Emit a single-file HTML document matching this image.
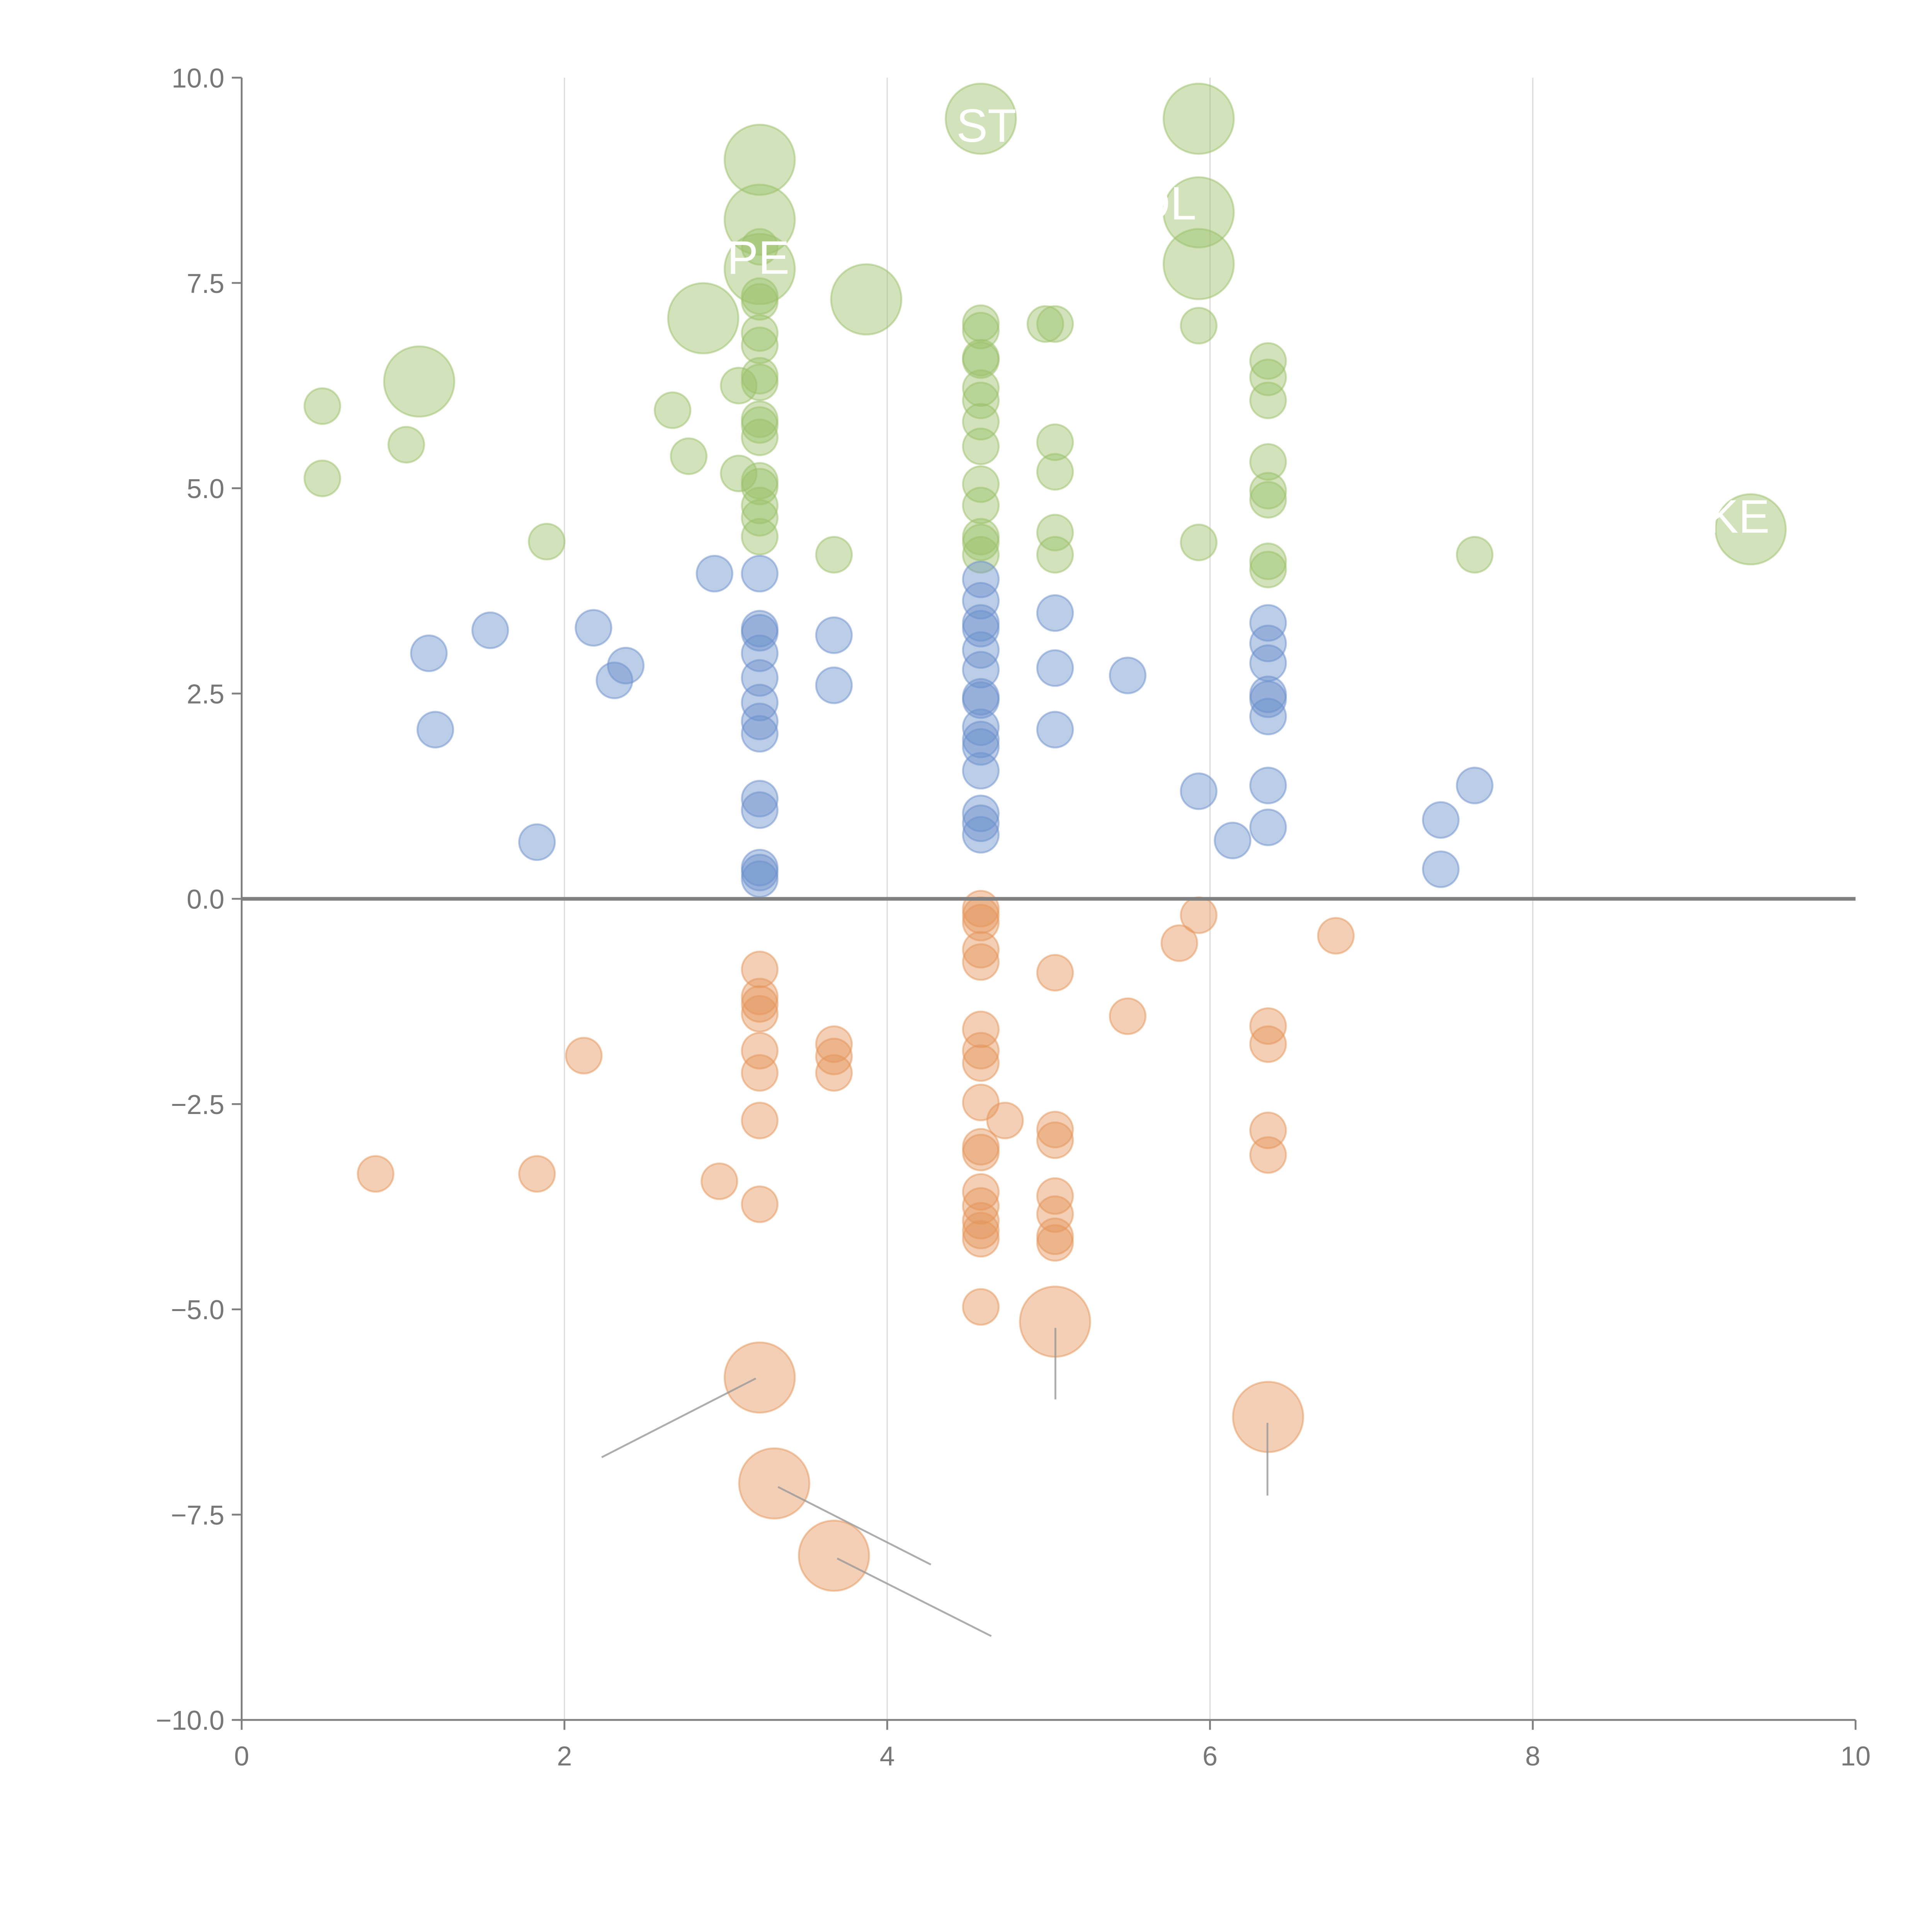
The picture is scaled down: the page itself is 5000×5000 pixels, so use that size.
<!DOCTYPE html>
<html><head><meta charset="utf-8"><style>
html,body{margin:0;padding:0;background:#fff;width:5000px;height:5000px;overflow:hidden}
svg{display:block}
text{font-family:"Liberation Sans",sans-serif}
</style></head><body>
<svg id="chart" width="5000" height="5000" viewBox="0 0 1567 1567" xmlns="http://www.w3.org/2000/svg">
<g id="grid"></g>
<g id="marks"></g>
<g id="axes"></g>
</svg>
<script>
const xTicks=[0,2,4,6,8,10];
const yTicks=[-10,-7.5,-5,-2.5,0,2.5,5,7.5,10];
const yTickLabels=["\u221210.0","\u22127.5","\u22125.0","\u22122.5","0.0","2.5","5.0","7.5","10.0"];
const greenX=[0.5,0.5,1.02,1.89,2.67,2.77,3.08,3.08,
3.21,3.21,3.21,3.21,3.21,3.21,3.21,3.21,3.21,3.21,3.21,3.21,3.21,3.21,3.21,3.67,
4.58,4.58,4.58,4.58,4.58,4.58,4.58,4.58,4.58,4.58,4.58,4.58,4.58,
4.98,5.04,5.04,5.04,5.04,5.04,5.93,5.93,
6.36,6.36,6.36,6.36,6.36,6.36,6.36,6.36,7.64];
const greenY=[6.0,5.12,5.53,4.35,5.95,5.39,6.25,5.18,
7.94,7.34,7.27,6.89,6.74,6.37,6.29,5.84,5.77,5.62,5.09,5.02,4.79,4.64,4.41,4.19,
7.01,6.92,6.59,6.56,6.22,6.07,5.81,5.51,5.05,4.79,4.41,4.34,4.19,
7.0,7.0,5.56,5.2,4.46,4.19,6.98,4.34,
6.55,6.35,6.07,5.32,4.97,4.86,4.11,4.01,4.19];
const greenBigX=[1.1,2.86,3.21,3.21,3.21,3.87,4.58,5.93,5.93,5.93,9.35];
const greenBigY=[6.3,7.07,9.0,8.27,7.67,7.3,9.5,9.5,8.36,7.73,4.5];
const blueX=[1.16,1.2,1.54,1.83,2.18,2.31,2.38,2.93,
3.21,3.21,3.21,3.21,3.21,3.21,3.21,3.21,3.21,3.21,3.21,3.21,3.21,3.67,3.67,
4.58,4.58,4.58,4.58,4.58,4.58,4.58,4.58,4.58,4.58,4.58,4.58,4.58,4.58,4.58,
5.04,5.04,5.04,5.49,5.93,6.14,
6.36,6.36,6.36,6.36,6.36,6.36,6.36,6.36,7.43,7.43,7.64];
const blueY=[2.99,2.06,3.27,0.69,3.3,2.66,2.84,3.96,
3.96,3.29,3.24,2.99,2.69,2.39,2.16,2.01,1.22,1.08,0.38,0.32,0.24,3.21,2.6,
3.89,3.63,3.36,3.29,3.03,2.79,2.46,2.42,2.09,1.94,1.85,1.56,1.04,0.92,0.78,
3.48,2.81,2.06,2.72,1.31,0.71,
3.36,3.11,2.87,2.49,2.43,2.22,1.38,0.87,0.96,0.36,1.38];
const orangeX=[0.83,1.83,2.12,2.96,
3.21,3.21,3.21,3.21,3.21,3.21,3.21,3.21,3.67,3.67,3.67,
4.58,4.58,4.58,4.58,4.58,4.58,4.58,4.58,4.58,4.58,4.58,4.58,4.58,4.58,4.58,4.58,4.58,4.73,
5.04,5.04,5.04,5.04,5.04,5.04,5.04,5.49,5.81,5.93,
6.36,6.36,6.36,6.36,6.78];
const orangeY=[-3.35,-3.35,-1.91,-3.44,
-0.86,-1.19,-1.28,-1.4,-1.85,-2.12,-2.7,-3.72,-1.77,-1.92,-2.12,
-0.12,-0.2,-0.29,-0.62,-0.77,-1.59,-1.85,-2.0,-2.48,-3.02,-3.09,-3.57,-3.74,-3.92,-4.04,-4.14,-4.97,-2.7,
-0.9,-2.81,-2.94,-3.62,-3.84,-4.11,-4.19,-1.43,-0.54,-0.2,
-1.55,-1.77,-2.82,-3.12,-0.45];
const orangeBigX=[5.04,3.21,3.3,3.67,6.36];
const orangeBigY=[-5.15,-5.83,-7.12,-8.0,-6.31];
const X0=196,X1=1505,Y0=1395,Y1=63;
function sx(v){return X0+(v-0)/(10-0)*(X1-X0);}
function sy(v){return Y0-(v+10)/20*(Y0-Y1);}
const NS="http://www.w3.org/2000/svg";
function mk(tag,attrs,parent){const e=document.createElementNS(NS,tag);for(const k in attrs)e.setAttribute(k,attrs[k]);parent.appendChild(e);return e;}
const grid=document.getElementById('grid'),marks=document.getElementById('marks'),axes=document.getElementById('axes');
[2,4,6,8].forEach(v=>{const l=mk('line',{x1:sx(v),x2:sx(v),y1:Y1,y2:Y0,stroke:'#dcdcdc','stroke-width':1},grid);

});
function draw(xs,ys,r,fill,name){xs.forEach((x,i)=>{const c=mk('circle',{cx:sx(x),cy:sy(ys[i]),r:r,fill:fill,'fill-opacity':0.45,stroke:fill,'stroke-opacity':0.5,'stroke-width':1.5},marks);

});}
draw(greenX,greenY,14.5,'#9cc06a','green-bubble');
draw(greenBigX,greenBigY,28.5,'#9cc06a','green-big-bubble');
draw(blueX,blueY,14.5,'#6b90cc','blue-bubble');
draw(orangeX,orangeY,14.5,'#e5955a','orange-bubble');
draw(orangeBigX,orangeBigY,28.5,'#e5955a','orange-big-bubble');
[[856,1077,856,1135],[613,1118,488,1182],[631,1206,755,1269],[679,1264,804,1327],[1028,1154,1028,1213]].forEach(p=>{const l=mk('line',{x1:p[0],y1:p[1],x2:p[2],y2:p[3],stroke:'#999','stroke-width':1.5,'stroke-opacity':0.8},marks);

});
[[800,115,'ST'],[615,222,'PE'],[945,178,'OL'],[1410,432,'KE']].forEach(p=>{const t=mk('text',{x:p[0],y:p[1],fill:'#fff','font-size':38,'text-anchor':'middle'},marks);t.textContent=p[2];

});
const za=mk('line',{x1:X0,x2:X1,y1:sy(0),y2:sy(0),stroke:'#808080','stroke-width':3},axes);


const ya=mk('line',{x1:X0,x2:X0,y1:Y1,y2:Y0,stroke:'#808080','stroke-width':1.5},axes);


const xa=mk('line',{x1:X0,x2:X1,y1:Y0,y2:Y0,stroke:'#808080','stroke-width':1.5},axes);


xTicks.forEach(v=>{const t=mk('line',{x1:sx(v),x2:sx(v),y1:Y0,y2:Y0+8,stroke:'#808080','stroke-width':1.5},axes);


const l=mk('text',{x:sx(v),y:Y0+37,fill:'#777','font-size':22,'text-anchor':'middle'},axes);l.textContent=String(v);

});
yTicks.forEach((v,i)=>{const t=mk('line',{x1:X0-8,x2:X0,y1:sy(v),y2:sy(v),stroke:'#808080','stroke-width':1.5},axes);


const l=mk('text',{x:X0-14,y:sy(v)+8,fill:'#777','font-size':22,'text-anchor':'end'},axes);l.textContent=yTickLabels[i];

});
</script>
</body></html>
